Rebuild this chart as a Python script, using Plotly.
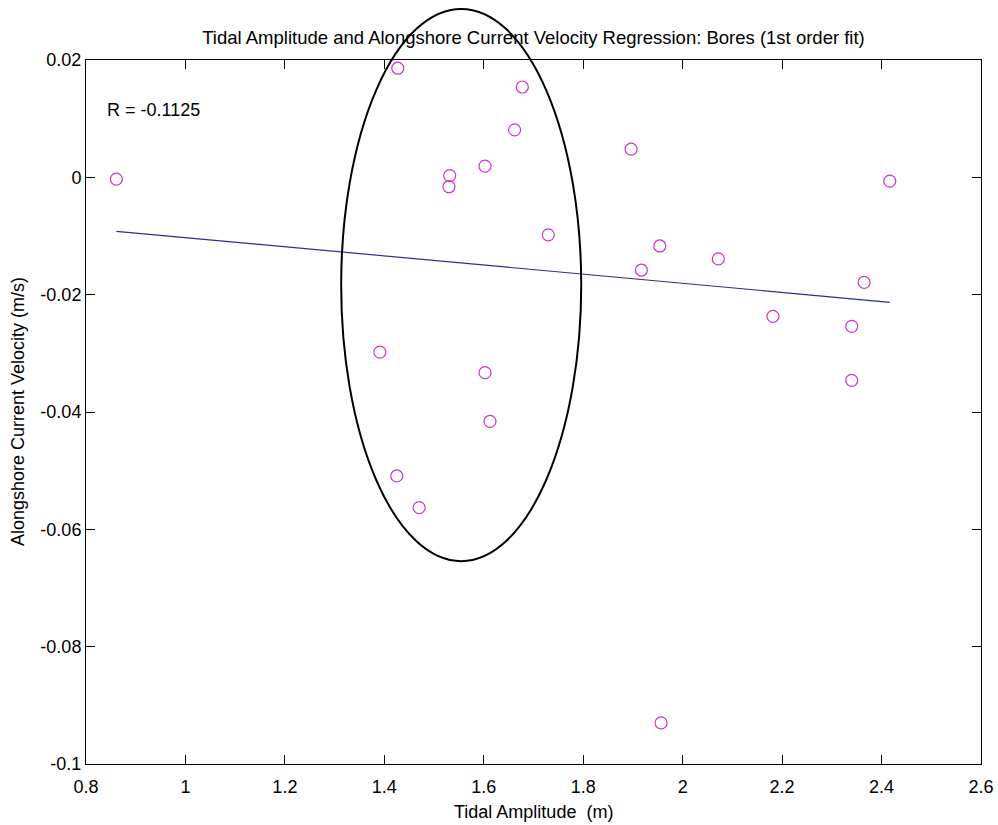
import plotly.graph_objects as go

# ---- data ----
tidal_amplitude = [0.861, 1.427, 1.5315, 1.530, 1.6025, 1.779, 1.6775, 1.662,
                   1.8964, 2.4165, 1.7297, 1.917, 1.391, 1.6025, 1.6125, 2.3649,
                   2.340, 2.340, 2.1816, 1.954, 2.0717, 1.425, 1.470, 1.9566]
current_velocity = [-0.0003, 0.0186, 0.0003, -0.0016, 0.0019, 0.0201, 0.0154, 0.0081,
                    0.0048, -0.00065, -0.0098, -0.0158, -0.0298, -0.0333, -0.0416, -0.0179,
                    -0.0254, -0.0346, -0.0237, -0.0117, -0.0139, -0.0509, -0.0563, -0.0930]

fit_x = [0.861, 2.4165]
fit_y = [-0.0092, -0.0213]

r_value = -0.1125

# highlighted group (ellipse) in data units: centre and semi-axes
ellipse_center = (1.5546, -0.01836)
ellipse_semi = (0.2414, 0.04706)

x_range = [0.8, 2.6]
y_range = [-0.1, 0.02]
x_ticks = [0.8, 1.0, 1.2, 1.4, 1.6, 1.8, 2.0, 2.2, 2.4, 2.6]
x_ticklabels = ["0.8", "1", "1.2", "1.4", "1.6", "1.8", "2", "2.2", "2.4", "2.6"]
y_ticks = [0.02, 0.0, -0.02, -0.04, -0.06, -0.08, -0.1]
y_ticklabels = ["0.02", "0", "-0.02", "-0.04", "-0.06", "-0.08", "-0.1"]

FONT = "Liberation Sans, Arial, sans-serif"

fig = go.Figure()
fig.add_trace(go.Scatter(
    x=tidal_amplitude, y=current_velocity, mode="markers",
    marker=dict(symbol="circle-open", size=12, color="#cc33cc", line=dict(width=1.2)),
    cliponaxis=False, showlegend=False))
fig.add_trace(go.Scatter(
    x=fit_x, y=fit_y, mode="lines",
    line=dict(color="#2a2aa0", width=1.2), showlegend=False))


def to_dom_x(v):
    return (v - x_range[0]) / (x_range[1] - x_range[0])


def to_dom_y(v):
    return (v - y_range[0]) / (y_range[1] - y_range[0])


cx, cy = ellipse_center
ax_, by_ = ellipse_semi
fig.add_shape(type="circle", xref="x domain", yref="y domain",
              x0=to_dom_x(cx - ax_), x1=to_dom_x(cx + ax_),
              y0=to_dom_y(cy - by_), y1=to_dom_y(cy + by_),
              line=dict(color="black", width=2), layer="above")

fig.add_annotation(x=0.839, y=0.0115, xref="x", yref="y", text=f"R = {r_value}",
                   showarrow=False, xanchor="left", yanchor="middle",
                   font=dict(family=FONT, size=18, color="black"))

axis_common = dict(showgrid=False, zeroline=False, showline=True, linecolor="black",
                   linewidth=1, mirror="ticks", ticks="inside", ticklen=9,
                   tickcolor="black", tickwidth=1, automargin=False,
                   tickfont=dict(family=FONT, size=18, color="black"))

fig.update_xaxes(range=x_range, tickvals=x_ticks, ticktext=x_ticklabels,
                 ticklabelstandoff=6, **axis_common)
fig.update_yaxes(range=y_range, tickvals=y_ticks, ticktext=y_ticklabels, **axis_common)

fig.update_layout(
    width=998, height=825,
    margin=dict(l=86, r=17, t=60, b=61),
    paper_bgcolor="white", plot_bgcolor="white",
    title=dict(text="Tidal Amplitude and Alongshore Current Velocity Regression: Bores (1st order fit)",
               x=(533.5 / 998), xanchor="center", y=1 - 38 / 825, yanchor="middle",
               font=dict(family=FONT, size=18.5, color="black")),
)
fig.add_annotation(x=0.5, y=-(812 - 764) / 704, xref="paper", yref="paper",
                   text="Tidal Amplitude\u00a0 (m)", showarrow=False,
                   xanchor="center", yanchor="middle",
                   font=dict(family=FONT, size=18, color="black"))
fig.add_annotation(x=-(86 - 18) / 895, y=0.5, xref="paper", yref="paper",
                   text="Alongshore Current Velocity (m/s)", showarrow=False, textangle=-90,
                   xanchor="center", yanchor="middle",
                   font=dict(family=FONT, size=18, color="black"))

fig.write_html("out.html")
